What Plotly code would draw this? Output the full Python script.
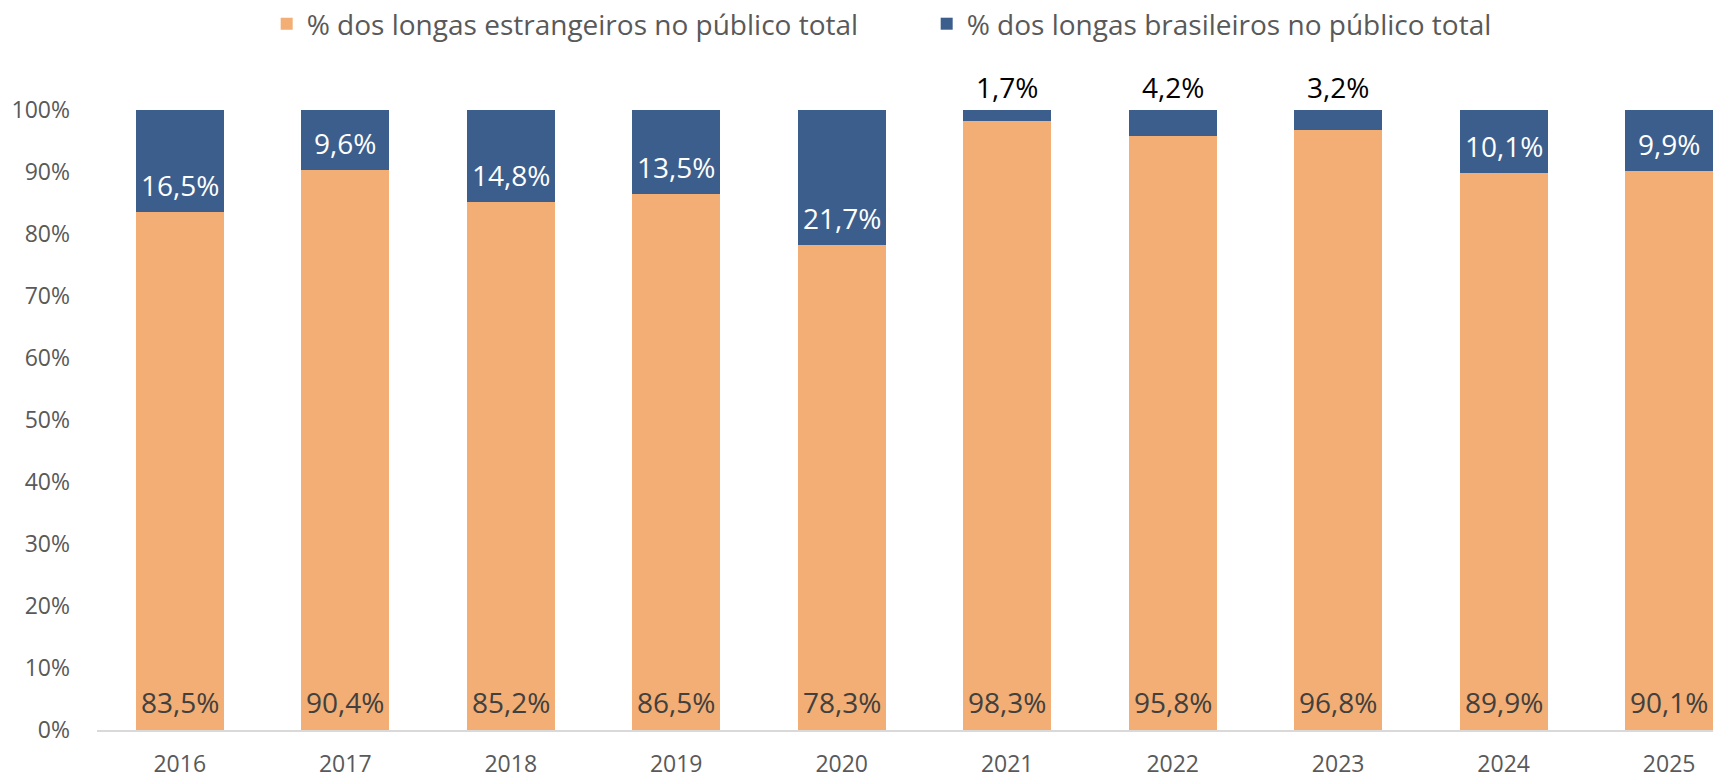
import plotly.graph_objects as go

anos = ["2016", "2017", "2018", "2019", "2020", "2021", "2022", "2023", "2024", "2025"]
estrangeiros = [83.5, 90.4, 85.2, 86.5, 78.3, 98.3, 95.8, 96.8, 89.9, 90.1]
brasileiros = [16.5, 9.6, 14.8, 13.5, 21.7, 1.7, 4.2, 3.2, 10.1, 9.9]
y_ticks = [0, 10, 20, 30, 40, 50, 60, 70, 80, 90, 100]
y_tick_labels = [f"{v}%" for v in y_ticks]

FONT = "Open Sans"
ORANGE = "#F2AE74"
BLUE = "#3C5E8C"
LABEL_SIZE = 28


def fmt(v):
    return f"{v:.1f}".replace(".", ",") + "%"


fig = go.Figure()
fig.add_trace(go.Bar(
    x=anos, y=estrangeiros, name="% dos longas estrangeiros no público total",
    marker=dict(color=ORANGE, line=dict(width=0)), hoverinfo="skip",
))
fig.add_trace(go.Bar(
    x=anos, y=brasileiros, name="% dos longas brasileiros no público total",
    marker=dict(color=BLUE, line=dict(width=0)), hoverinfo="skip",
))

# data labels, placed from the data values (category axis -> serial index)
for i, (e, b) in enumerate(zip(estrangeiros, brasileiros)):
    fig.add_annotation(
        x=i, y=0, text=fmt(e), showarrow=False, yanchor="middle", yshift=28,
        font=dict(family=FONT, size=LABEL_SIZE, color="#404040"),
    )
    if b < 5:
        fig.add_annotation(
            x=i, y=e + b, text=fmt(b), showarrow=False, yanchor="middle", yshift=23,
            font=dict(family=FONT, size=LABEL_SIZE, color="black"),
        )
    else:
        fig.add_annotation(
            x=i, y=e, text=fmt(b), showarrow=False, yanchor="middle", yshift=27,
            font=dict(family=FONT, size=LABEL_SIZE, color="white"),
        )

fig.update_layout(
    barmode="stack",
    bargap=0.47,
    width=1733, height=778,
    margin=dict(l=97, r=20, t=110, b=48, autoexpand=False),
    plot_bgcolor="white", paper_bgcolor="white",
    font=dict(family=FONT, color="#595959"),
    legend=dict(
        orientation="h", x=0.105, xanchor="left",
        yref="container", y=1 - 24 / 778, yanchor="middle",
        font=dict(family=FONT, size=28, color="#595959"),
        itemwidth=30, traceorder="normal",
        entrywidth=615, entrywidthmode="pixels",
    ),
    xaxis=dict(
        type="category", range=[-0.5, 9.265],
        showgrid=False, showline=True, linecolor="#D9D9D9", linewidth=2,
        ticks="", tickfont=dict(family=FONT, size=23, color="#595959"),
        ticklabelstandoff=12,
    ),
    yaxis=dict(
        range=[0, 100], tickvals=y_ticks, ticktext=y_tick_labels,
        showgrid=False, zeroline=False, showline=False,
        tickfont=dict(family=FONT, size=23, color="#595959"),
        ticklabelstandoff=26,
    ),
)

fig.write_html("out.html", config={"displayModeBar": False},
               post_script="document.body.style.margin='0';")
